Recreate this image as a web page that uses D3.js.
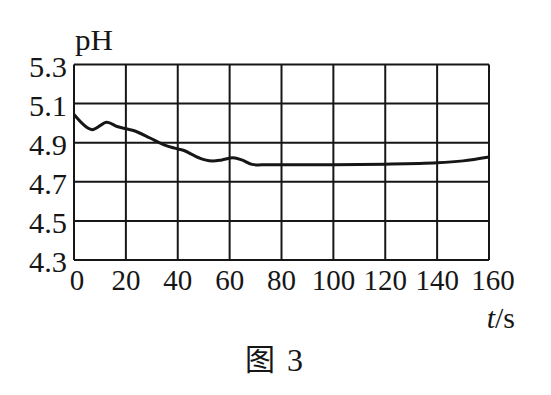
<!DOCTYPE html>
<html><head><meta charset="utf-8">
<script src="https://cdn.jsdelivr.net/npm/d3@7"></script>
<style>html,body{margin:0;padding:0;background:#fff;}svg{display:block;}</style>
</head><body>
<svg id="c" width="551" height="395"></svg>
<script>
const timeS = [0, 6.8, 12.6, 16.6, 20, 23.5, 29.3, 35, 40, 42.4, 46.6, 50.5, 53.6, 57, 61.3, 64.7, 68.6, 74, 80, 100, 120, 140, 150, 160];
const pH    = [5.045, 4.967, 5.005, 4.983, 4.971, 4.96, 4.924, 4.888, 4.868, 4.86, 4.832, 4.812, 4.806, 4.812, 4.823, 4.812, 4.789, 4.787, 4.787, 4.787, 4.79, 4.797, 4.807, 4.827];
const xTicks = [0, 20, 40, 60, 80, 100, 120, 140, 160];
const yTicks = [4.3, 4.5, 4.7, 4.9, 5.1, 5.3];
const yTickLabels = ["4.3", "4.5", "4.7", "4.9", "5.1", "5.3"];
const yLabel = "pH";
const caption = "图 3";

const svg = d3.select("#c");
const x = d3.scaleLinear().domain([0, 160]).range([74, 489]);
const y = d3.scaleLinear().domain([4.3, 5.3]).range([260, 64.5]);
const ink = "#161616";
const serif = "'Liberation Serif','Times New Roman',serif";

// grid
const g = svg.append("g");
g.selectAll("line.v").data(xTicks).join("line")
  .attr("x1", d => x(d)).attr("x2", d => x(d))
  .attr("y1", y(5.3)).attr("y2", y(4.3))
  .attr("stroke", ink).attr("stroke-width", 2);
g.selectAll("line.h").data(yTicks).join("line")
  .attr("y1", d => y(d)).attr("y2", d => y(d))
  .attr("x1", x(0)).attr("x2", x(160))
  .attr("stroke", ink).attr("stroke-width", 2);

// y labels
svg.selectAll("text.yl").data(yTicks).join("text")
  .attr("x", 67).attr("y", d => y(d) + 12)
  .attr("text-anchor", "end")
  .attr("font-family", serif).attr("font-size", 30).attr("fill", ink)
  .attr("textLength", 38).attr("lengthAdjust", "spacingAndGlyphs")
  .text((d, i) => yTickLabels[i]);

// x labels
svg.selectAll("text.xl").data(xTicks).join("text")
  .attr("x", d => x(d) + (d === 0 ? 3 : (d === 160 ? 4 : 0))).attr("y", 290)
  .attr("text-anchor", "middle")
  .attr("font-family", serif).attr("font-size", 29).attr("fill", ink)
  .text(d => d);

// axis titles
svg.append("text").attr("x", 75).attr("y", 50)
  .attr("font-family", serif).attr("font-size", 29).attr("fill", ink)
  .attr("textLength", 38).attr("lengthAdjust", "spacingAndGlyphs").text(yLabel);
const ts = svg.append("text").attr("x", 515).attr("y", 328).attr("text-anchor", "end")
  .attr("font-family", serif).attr("font-size", 30).attr("fill", ink);
ts.append("tspan").attr("font-style", "italic").text("t");
ts.append("tspan").text("/s");

// curve
const line = d3.line().x(d => x(d[0])).y(d => y(d[1])).curve(d3.curveCatmullRom.alpha(0.5));
svg.append("path").datum(timeS.map((t, i) => [t, pH[i]]))
  .attr("d", line).attr("fill", "none").attr("stroke", ink).attr("stroke-width", 3);

// caption
svg.append("text").attr("x", 245).attr("y", 370)
  .attr("font-family", "'Noto Sans CJK SC',sans-serif").attr("font-size", 30).attr("fill", ink)
  .text(caption.split(" ")[0]);
svg.append("text").attr("x", 287).attr("y", 371)
  .attr("font-family", serif).attr("font-size", 32).attr("fill", ink)
  .text(caption.split(" ")[1]);
</script>
</body></html>
